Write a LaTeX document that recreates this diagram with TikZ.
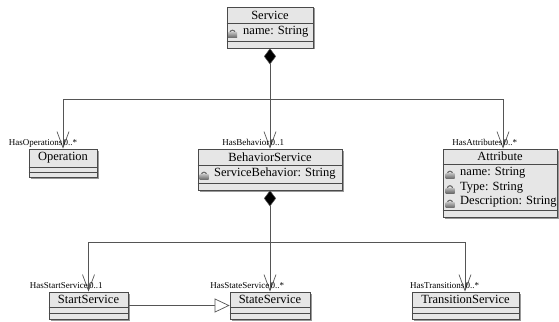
\documentclass[tikz,border=0pt]{standalone}
\usepackage{fontspec}
\setmainfont{Liberation Serif}
\usetikzlibrary{arrows.meta,shadows,calc}
\definecolor{boxfill}{HTML}{E6E6E6}
\definecolor{boxline}{HTML}{4A4A4A}
\definecolor{conn}{HTML}{555555}
\definecolor{lockgray}{HTML}{6A6A6A}
\definecolor{locklight}{HTML}{B8B8B8}
\begin{document}
\begin{tikzpicture}[x=1pt,y=-1pt,
  classbox/.style={draw=boxline, fill=boxfill, line width=0.8pt, inner sep=0pt,
    drop shadow={shadow xshift=1.5pt, shadow yshift=-1.5pt, fill=black!40, opacity=1}},
  divider/.style={draw=boxline, line width=0.6pt},
  cname/.style={font=\fontsize{12.5}{14}\selectfont, inner sep=0pt},
  attr/.style={font=\fontsize{12.5}{14}\selectfont, inner sep=0pt, anchor=west},
  role/.style={font=\fontsize{9}{10}\selectfont, inner sep=0pt},
  nav/.style={draw=conn, line width=0.7pt, -{Straight Barb[length=16pt,width=12pt,line width=0.7pt]}},
  comp/.style={draw=conn, line width=0.7pt, {Diamond[length=16pt,width=12pt,fill=black,line width=0.5pt]}-},
  gen/.style={draw=conn, line width=0.7pt, -{Triangle[open,length=15pt,width=14pt,fill=white,line width=0.7pt]}},
  lockicon/.pic={
    \draw[lockgray, line width=1.1pt] (-2.6,0.3) arc[start angle=180, end angle=360, radius=2.6];
    \shade[top color=locklight, bottom color=lockgray] (-4.5,0) rectangle (4.5,5);
  }
]
\useasboundingbox (0,0) rectangle (559,321);

% ---------- Service ----------
\node[classbox, minimum width=86pt, minimum height=41pt] (svc) at (270,27.5) {};
\draw[divider] (svc.west |- 0,23) -- (svc.east |- 0,23);
\draw[divider] (svc.west |- 0,41) -- (svc.east |- 0,41);
\node[cname] (svcn) at (270,15.5) {Service};
\pic at (232.5,32.5) {lockicon};
\node[attr] (svca) at (243,32) {name: String};

% ---------- Operation ----------
\node[classbox, minimum width=68pt, minimum height=28pt] (op) at (63,163) {};
\draw[divider] (op.west |- 0,167) -- (op.east |- 0,167);
\draw[divider] (op.west |- 0,172) -- (op.east |- 0,172);
\node[cname] (opn) at (63,158) {Operation};

% ---------- BehaviorService ----------
\node[classbox, minimum width=144pt, minimum height=41pt] (beh) at (270,169.5) {};
\draw[divider] (beh.west |- 0,165) -- (beh.east |- 0,165);
\draw[divider] (beh.west |- 0,183) -- (beh.east |- 0,183);
\node[cname] (behn) at (270,157) {BehaviorService};
\pic at (204,174.5) {lockicon};
\node[attr] (beha) at (214,174) {ServiceBehavior: String};

% ---------- Attribute ----------
\node[classbox, minimum width=114pt, minimum height=68pt] (attrb) at (500,183) {};
\draw[divider] (attrb.west |- 0,164) -- (attrb.east |- 0,164);
\draw[divider] (attrb.west |- 0,210) -- (attrb.east |- 0,210);
\node[cname] (attrn) at (500,156.5) {Attribute};
\pic at (450,173.5) {lockicon};
\node[attr] (attra1) at (460,173) {name: String};
\pic at (450,188) {lockicon};
\node[attr] (attra2) at (460,187.5) {Type: String};
\pic at (450,202.5) {lockicon};
\node[attr] (attra3) at (460,202) {Description: String};

% ---------- StartService ----------
\node[classbox, minimum width=79pt, minimum height=27pt] (start) at (88.5,305.5) {};
\draw[divider] (start.west |- 0,307) -- (start.east |- 0,307);
\draw[divider] (start.west |- 0,313) -- (start.east |- 0,313);
\node[cname] (startn) at (88.5,299.5) {StartService};

% ---------- StateService ----------
\node[classbox, minimum width=80pt, minimum height=27pt] (state) at (270,305.5) {};
\draw[divider] (state.west |- 0,307) -- (state.east |- 0,307);
\draw[divider] (state.west |- 0,313) -- (state.east |- 0,313);
\node[cname] (staten) at (270,299.5) {StateService};

% ---------- TransitionService ----------
\node[classbox, minimum width=107pt, minimum height=27pt] (trans) at (465.5,305.5) {};
\draw[divider] (trans.west |- 0,307) -- (trans.east |- 0,307);
\draw[divider] (trans.west |- 0,313) -- (trans.east |- 0,313);
\node[cname] (transn) at (465.5,299.5) {TransitionService};

% ---------- connectors ----------
\coordinate (j1) at (270,99);
\coordinate (j2) at (270,242);
\coordinate (attrin) at ($(attrb.north)+(3,0)$);
\coordinate (transin) at ($(trans.north)+(-0.5,0)$);

\draw[comp] (svc.south) -- (j1);
\draw[nav] (j1) -| (op.north);
\draw[nav] (j1) -- (beh.north);
\draw[nav] (j1) -| (attrin);

\draw[comp] (beh.south) -- (j2);
\draw[nav] (j2) -| (start.north);
\draw[nav] (j2) -- (state.north);
\draw[nav] (j2) -| (transin);

\draw[gen] (start.east) -- (state.west);

% ---------- role labels ----------
\node[role, anchor=base east] (r1a) at ($(op.north)+(-0.5,-3)$) {HasOperations};
\node[role, anchor=base west] (r1b) at ($(op.north)+(0.5,-3)$) {0..*};
\node[role, anchor=base east] (r2a) at ($(beh.north)+(-0.5,-3)$) {HasBehavior};
\node[role, anchor=base west] (r2b) at ($(beh.north)+(0.5,-3)$) {0..1};
\node[role, anchor=base east] (r3a) at ($(attrin)+(-0.5,-3)$) {HasAttributes};
\node[role, anchor=base west] (r3b) at ($(attrin)+(0.5,-3)$) {0..*};
\node[role, anchor=base east] (r4a) at ($(start.north)+(-0.5,-3)$) {HasStartService};
\node[role, anchor=base west] (r4b) at ($(start.north)+(0.5,-3)$) {0..1};
\node[role, anchor=base east] (r5a) at ($(state.north)+(-0.5,-3)$) {HasStateService};
\node[role, anchor=base west] (r5b) at ($(state.north)+(0.5,-3)$) {0..*};
\node[role, anchor=base east] (r6a) at ($(transin)+(-0.5,-3)$) {HasTransitions};
\node[role, anchor=base west] (r6b) at ($(transin)+(0.5,-3)$) {0..*};
\end{tikzpicture}
\end{document}
